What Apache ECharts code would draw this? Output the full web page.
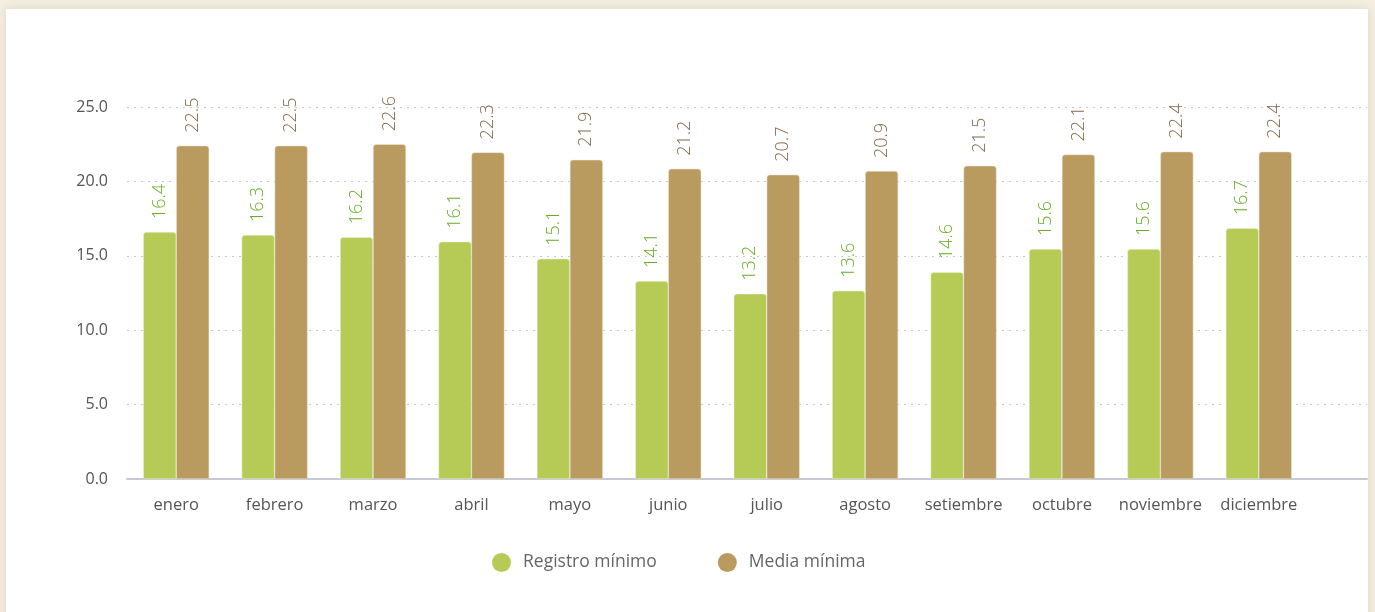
<!DOCTYPE html>
<html><head><meta charset="utf-8">
<script src="https://cdn.jsdelivr.net/npm/echarts@6/dist/echarts.min.js"></script>
<style>
html,body{margin:0;padding:0;width:1375px;height:612px;overflow:hidden;background:#f3efe2;}
#card{position:absolute;left:6px;top:9px;width:1362px;height:620px;background:#fff;box-shadow:0 0 10px rgba(120,100,60,0.18);}
#chart{position:absolute;left:0;top:0;width:1375px;height:612px;}
</style></head>
<body><div id="card"></div><div id="chart"></div>
<script>
const months = ['enero','febrero','marzo','abril','mayo','junio','julio','agosto','setiembre','octubre','noviembre','diciembre'];
// bar heights as drawn
const registroMinimo = [16.6,16.4,16.25,15.95,14.8,13.3,12.45,12.65,13.9,15.45,15.45,16.85];
const mediaMinima = [22.4,22.4,22.5,21.95,21.45,20.85,20.45,20.7,21.05,21.8,22.0,22.0];
// value labels as printed
const registroMinimoLabels = ['16.4','16.3','16.2','16.1','15.1','14.1','13.2','13.6','14.6','15.6','15.6','16.7'];
const mediaMinimaLabels = ['22.5','22.5','22.6','22.3','21.9','21.2','20.7','20.9','21.5','22.1','22.4','22.4'];
const yTicks = {min:0, max:25, interval:5};

const chart = echarts.init(document.getElementById('chart'), null, {renderer:'canvas'});
const font = '"Open Sans", Lato, sans-serif';
function lbl(color, texts){
  return {show:true, position:'top', rotate:90, align:'left', verticalAlign:'middle', distance:13,
    color:color, fontSize:18, fontFamily:'"Open Sans", Lato, sans-serif', fontWeight:300,
    formatter:p=>texts[p.dataIndex]};
}
chart.setOption({
  animation:false,
  grid:[
    {left:127, right:8, top:107, height:372, containLabel:false},
    {left:127, width:1181, top:107, height:372, containLabel:false}
  ],
  xAxis:[
    {gridIndex:0, type:'category', data:months, axisLine:{show:true,lineStyle:{color:'#c6c8d2',width:2}},
      axisTick:{show:false}, axisLabel:{show:false}, splitLine:{show:false}},
    {gridIndex:1, type:'category', data:months, axisLine:{show:false}, axisTick:{show:false},
      axisLabel:{color:'#555', fontSize:16.5, fontFamily:font, margin:18, interval:0, hideOverlap:false}}
  ],
  yAxis:[
    {gridIndex:0, type:'value', min:yTicks.min, max:yTicks.max, interval:yTicks.interval,
      axisLine:{show:false}, axisTick:{show:false},
      axisLabel:{color:'#555', fontSize:16, fontFamily:font, margin:19, formatter:v=>v.toFixed(1)},
      splitLine:{show:true, lineStyle:{color:'#c8c8c8', type:[2,5], width:1}}},
    {gridIndex:1, type:'value', min:yTicks.min, max:yTicks.max, interval:yTicks.interval, show:false,
      splitLine:{show:false}}
  ],
  legend:{
    top:548, left:487, icon:'circle', itemWidth:19, itemHeight:19, itemGap:61,
    itemStyle:{borderWidth:0},
    textStyle:{color:'#666', fontSize:17.5, fontFamily:font, padding:[0,0,0,7]},
    data:['Registro mínimo','Media mínima']
  },
  series:[
    {name:'Registro mínimo', type:'bar', xAxisIndex:1, yAxisIndex:1, data:registroMinimo,
      barGap:'0%', barCategoryGap:'33%',
      itemStyle:{color:'#b6cb55', borderRadius:[3,3,0,0], borderColor:'#eef0d8', borderWidth:0.5},
      label:lbl('#66ad22', registroMinimoLabels)},
    {name:'Media mínima', type:'bar', xAxisIndex:1, yAxisIndex:1, data:mediaMinima,
      barGap:'0%', barCategoryGap:'33%',
      itemStyle:{color:'#b99a5f', borderRadius:[3,3,0,0], borderColor:'#efe6d4', borderWidth:0.5},
      label:lbl('#7f6b4a', mediaMinimaLabels)}
  ]
});
</script></body></html>
